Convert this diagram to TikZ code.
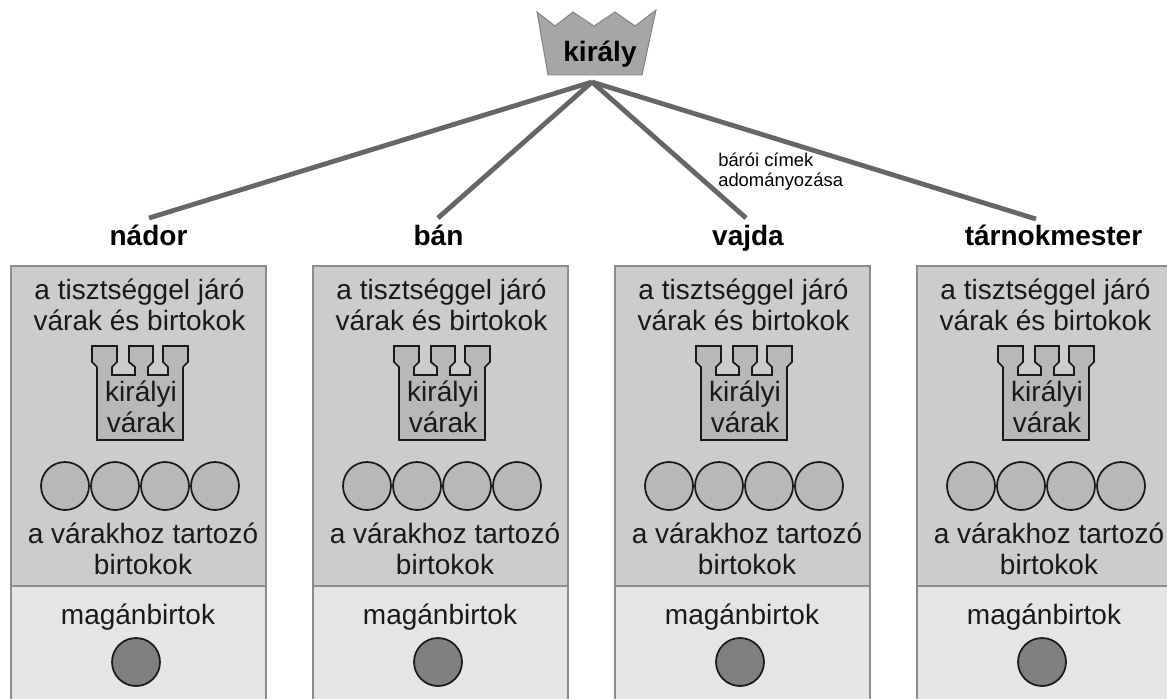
\documentclass[tikz,border=0pt]{standalone}
\usepackage{fontspec}
\setmainfont{Liberation Sans}
\tikzset{
 x=0.75pt,y=-0.75pt,
 panel/.style={draw=black!45,line width=0.8pt,fill=#1},
 txt/.style={font=\fontsize{21}{23.5}\selectfont,align=center,text=black!90,inner sep=0pt},
 head/.style={font=\fontsize{21}{23}\selectfont\bfseries,inner sep=0pt,anchor=base},
 spoke/.style={draw=black!60,line width=3.6pt},
 estate/.style={circle,draw=black!90,line width=1.3pt,fill=black!28,minimum size=36pt,inner sep=0pt},
 own/.style={estate,fill=black!50},
 tower/.style={draw=black!90,line width=1.3pt,fill=black!28,line join=miter}
}
\newcommand{\office}[4]{%
 \begin{scope}[shift={(#1,0)}]
 \node[head] (#2h) at (#3,245) {#4};
 \path[panel=black!20] (0,266) rectangle (255,586);
 \path[panel=black!10] (0,586) rectangle (255,710);
 \node[txt] (#2a) at (128.5,305) {a tisztséggel járó\\várak és birtokok};
 \draw[tower] (81,346)--(106,346)--(106,362)--(101,367)--(101,375)--(124,375)--(124,367)--(118,362)--(118,346)--(142,346)--(142,362)--(137,367)--(137,375)--(157,375)--(157,367)--(152,362)--(152,346)--(177,346)--(177,362)--(172,367)--(172,440)--(86,440)--(86,367)--(81,362)--cycle;
 \node[txt] (#2t) at (130,407) {királyi\\várak};
 \node[estate] (#2c1) at (54,486) {};
 \node[estate] (#2c2) at (104,486) {};
 \node[estate] (#2c3) at (154,486) {};
 \node[estate] (#2c4) at (204,486) {};
 \node[txt] (#2b) at (132,549) {a várakhoz tartozó\\birtokok};
 \node[txt] (#2m) at (127,617) {magánbirtok};
 \node[own] (#2o) at (125,662) {};
 \end{scope}}
\begin{document}
\begin{tikzpicture}
\useasboundingbox (0,0) rectangle (1167,699);
\clip (0,0) rectangle (1167,699);
\fill[white] (0,0) rectangle (1167,699);
\office{11}{a}{137.5}{nádor}
\office{313}{b}{125.5}{bán}
\office{615}{c}{133}{vajda}
\office{917}{d}{136.5}{tárnokmester}
\coordinate (apex) at (592,82);
\coordinate (e1) at (149,218);
\coordinate (e2) at (438,218);
\coordinate (e3) at (746,218);
\coordinate (e4) at (1036,219);
\draw[spoke] (apex)--(e1);
\draw[spoke] (apex)--(e2);
\draw[spoke] (apex)--(e3);
\draw[spoke] (apex)--(e4);
\draw[draw=black!50,fill=black!35,line width=0.7pt] (537,12)--(555,26)--(573,12)--(594,26)--(615,12)--(635,26)--(656,10)--(642,75)--(548,75)--cycle;
\node[head] (k) at (600,62) {király};
\node[font=\fontsize{13.8}{15}\selectfont,align=left,inner sep=0pt,anchor=west] (n) at (718,172) {bárói címek\\adományozása};
\end{tikzpicture}
\end{document}
